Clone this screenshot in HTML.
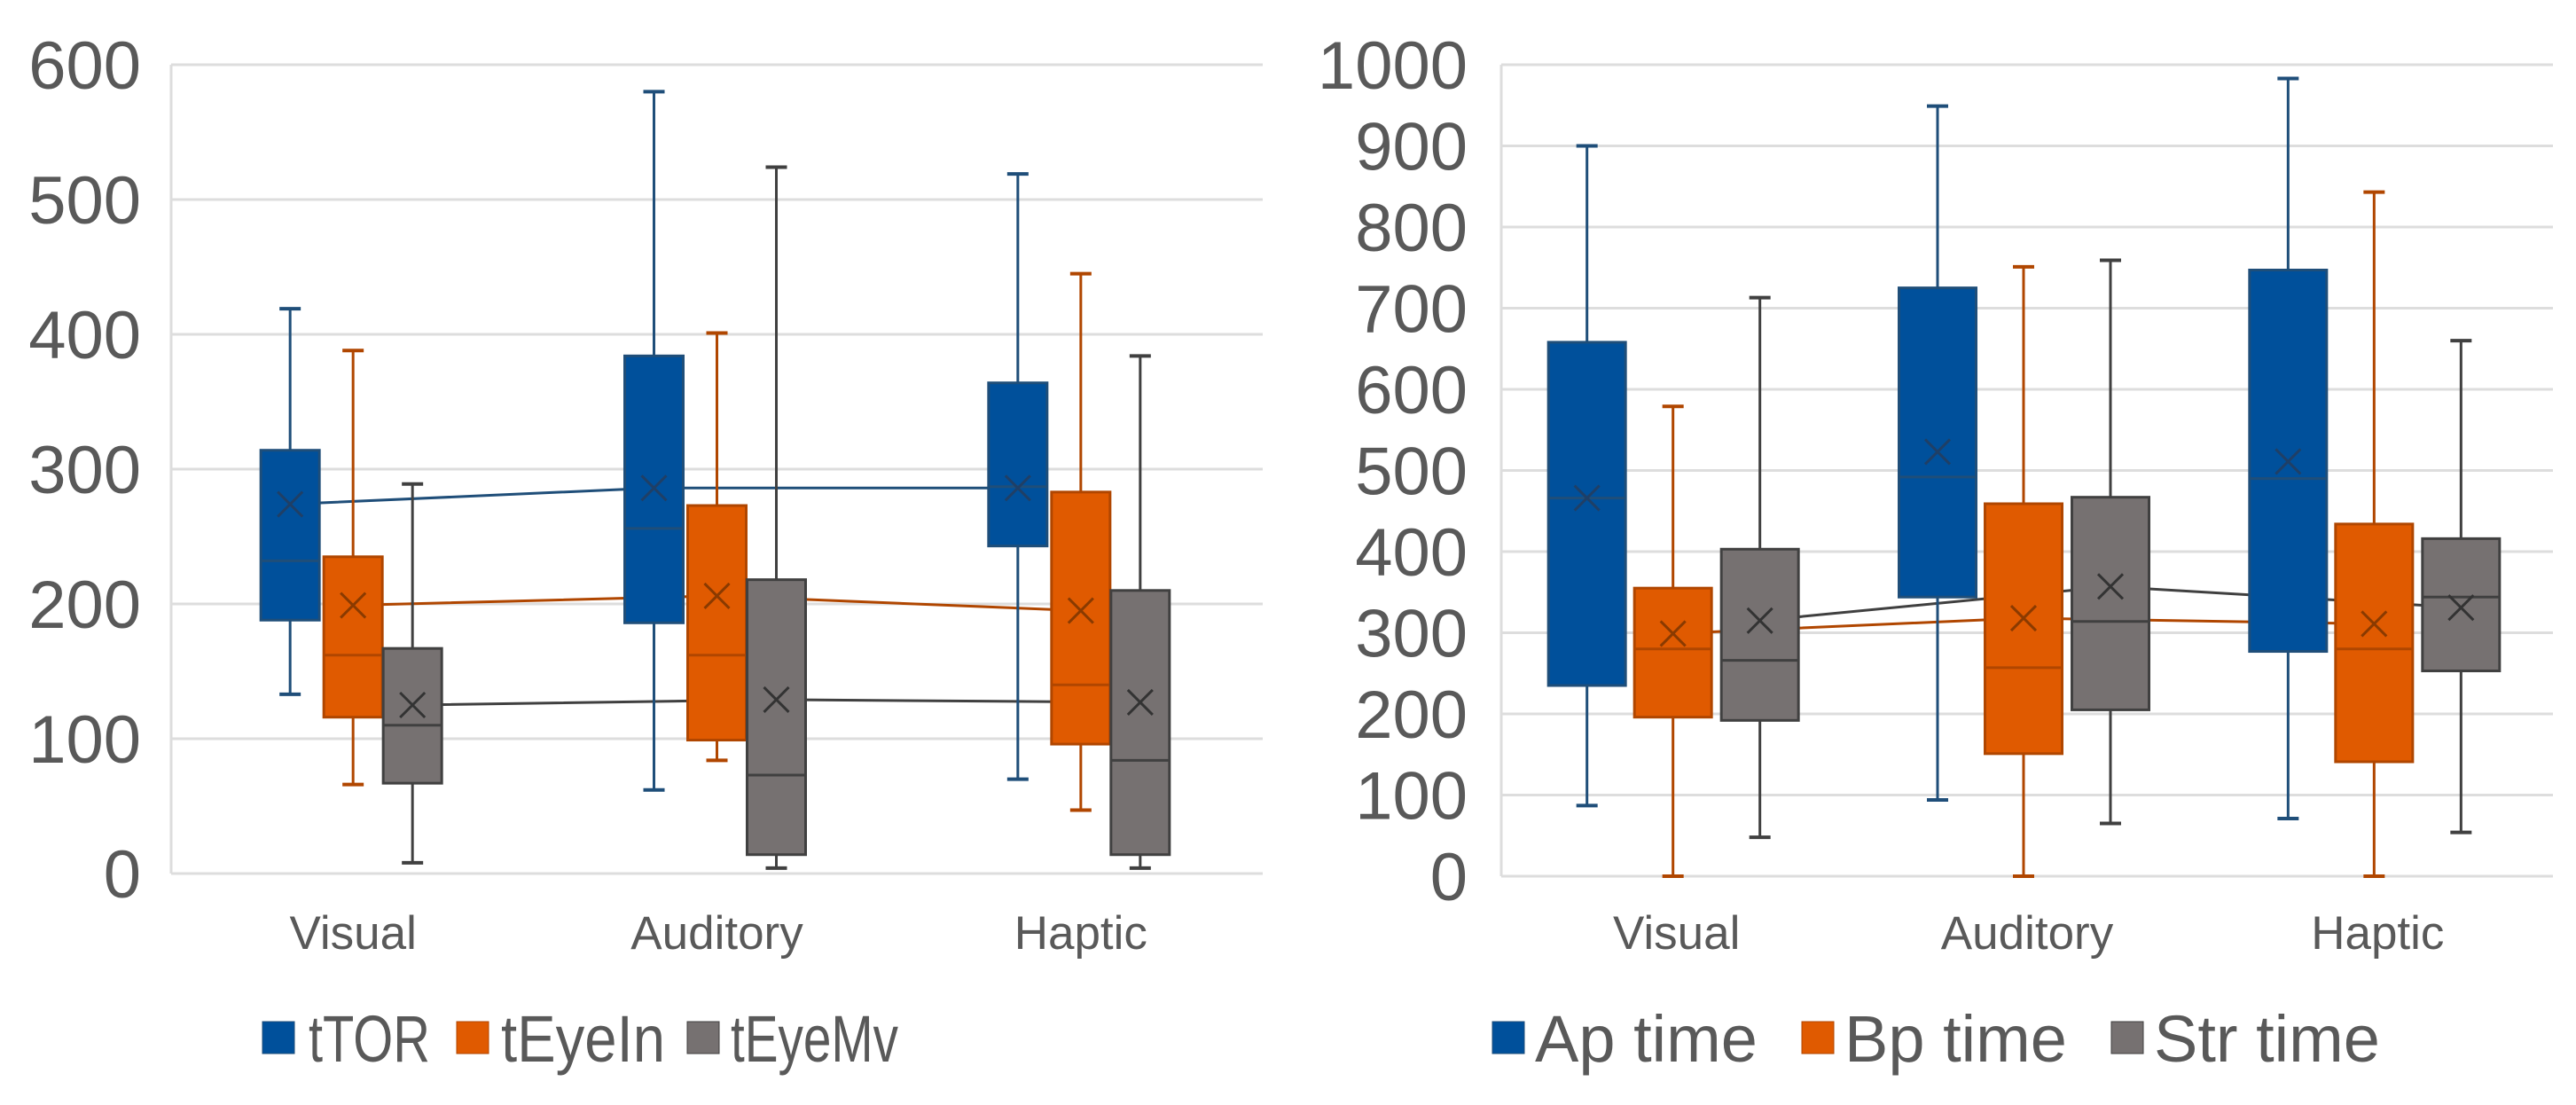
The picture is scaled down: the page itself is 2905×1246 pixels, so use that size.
<!DOCTYPE html>
<html><head><meta charset="utf-8">
<style>
html,body{margin:0;padding:0;background:#fff;}
svg{display:block;font-family:"Liberation Sans",Arial,sans-serif;}
</style></head>
<body>
<svg id="chart" width="2905" height="1246" viewBox="0 0 2905 1246" xmlns="http://www.w3.org/2000/svg"></svg>
<script>
// ---- data ----
const categories = ["Visual","Auditory","Haptic"];
const leftSeries = ["tTOR","tEyeIn","tEyeMv"];
const rightSeries = ["Ap time","Bp time","Str time"];
const leftTicks = [0,100,200,300,400,500,600];
const rightTicks = [0,100,200,300,400,500,600,700,800,900,1000];
const tTOR_min=[133,62,70], tTOR_q1=[188,186,243], tTOR_med=[232,256,287], tTOR_q3=[314,384,364], tTOR_max=[419,580,519], tTOR_mean=[274,286,286];
const tEyeIn_min=[66,84,47], tEyeIn_q1=[116,99,96], tEyeIn_med=[162,162,140], tEyeIn_q3=[235,273,283], tEyeIn_max=[388,401,445], tEyeIn_mean=[199,206,195];
const tEyeMv_min=[8,4,4], tEyeMv_q1=[67,14,14], tEyeMv_med=[110,73,84], tEyeMv_q3=[167,218,210], tEyeMv_max=[289,524,384], tEyeMv_mean=[125,129,127];
const Ap_min=[87,94,71], Ap_q1=[235,344,277], Ap_med=[466,492,490], Ap_q3=[658,725,747], Ap_max=[900,949,983], Ap_mean=[466,523,511];
const Bp_min=[0,0,0], Bp_q1=[196,151,141], Bp_med=[280,257,280], Bp_q3=[355,459,434], Bp_max=[579,751,843], Bp_mean=[299,318,311];
const Str_min=[48,65,54], Str_q1=[192,205,253], Str_med=[266,314,344], Str_q3=[403,467,416], Str_max=[713,759,660], Str_mean=[315,357,331];

const NS="http://www.w3.org/2000/svg";
const svg=document.getElementById('chart');
function mk(tag,attrs,parent){const e=document.createElementNS(NS,tag);for(const k in attrs)e.setAttribute(k,attrs[k]);(parent||svg).appendChild(e);return e;}
const fills=["#00509B","#E05A00","#767171"];
const strokes=["#1F4E79","#B04600","#404040"];
const markC=["#1F3F66","#8A3A00","#333333"];

function drawChart(cfg){
  const g=mk('g',{});
  
  
  const y=v=>cfg.y0-(v-cfg.ymin)/(cfg.ymax-cfg.ymin)*(cfg.y0-cfg.ytop);
  const bw=(cfg.x1-cfg.x0)/categories.length;
  const cx=i=>cfg.x0+bw*(i+0.5);
  cfg.ticks.forEach(t=>{
    const l=mk('line',{x1:cfg.x0,x2:cfg.x1,y1:y(t),y2:y(t),stroke:"#DDDDDD","stroke-width":3},g);
    
    
    const tx=mk('text',{x:cfg.labelX,y:y(t)+27,"text-anchor":"end","font-size":76,fill:"#595959"},g);
    tx.textContent=t;
    
    
  });
  const ax=mk('line',{x1:cfg.x0,x2:cfg.x0,y1:cfg.ytop,y2:cfg.y0,stroke:"#DDDDDD","stroke-width":3},g);
  
  
  categories.forEach((c,i)=>{
    const t=mk('text',{x:cx(i),y:1070,"text-anchor":"middle","font-size":53,fill:"#595959"},g);
    t.textContent=c;
    
    
  });
  cfg.series.forEach((s,si)=>{
    if(s.noLine) return;
    const pts=s.mean.map((m,i)=>(cx(i)+cfg.offs[si])+","+y(m)).join(" ");
    const pl=mk('polyline',{points:pts,fill:"none",stroke:si==2?"#404040":strokes[si],"stroke-width":3},g);
    
    
  });
  cfg.series.forEach((s,si)=>{
    categories.forEach((c,i)=>{
      const x=cx(i)+cfg.offs[si], w=cfg.boxW;
      const bg=mk('g',{},g);
      
      
      mk('line',{x1:x,x2:x,y1:y(s.max[i]),y2:y(s.q3[i]),stroke:strokes[si],"stroke-width":3},bg);
      mk('line',{x1:x,x2:x,y1:y(s.q1[i]),y2:y(s.min[i]),stroke:strokes[si],"stroke-width":3},bg);
      mk('line',{x1:x-12,x2:x+12,y1:y(s.max[i]),y2:y(s.max[i]),stroke:strokes[si],"stroke-width":4},bg);
      mk('line',{x1:x-12,x2:x+12,y1:y(s.min[i]),y2:y(s.min[i]),stroke:strokes[si],"stroke-width":4},bg);
      mk('rect',{x:x-w/2,y:y(s.q3[i]),width:w,height:y(s.q1[i])-y(s.q3[i]),fill:fills[si],stroke:strokes[si],"stroke-width":3},bg);
      mk('line',{x1:x-w/2,x2:x+w/2,y1:y(s.med[i]),y2:y(s.med[i]),stroke:strokes[si],"stroke-width":3},bg);
      const my=y(s.mean[i]), r=14;
      mk('path',{d:`M${x-r},${my-r}L${x+r},${my+r}M${x-r},${my+r}L${x+r},${my-r}`,stroke:markC[si],"stroke-width":3,fill:"none"},bg);
    });
  });
  cfg.series.forEach((s,si)=>{
    const lg=mk('g',{},g);
    
    
    mk('rect',{x:cfg.legX[si],y:1152,width:36,height:36,fill:fills[si],stroke:strokes[si],"stroke-width":1},lg);
    const attrs={x:cfg.legTX[si],y:1197,"font-size":74,fill:"#595959"};
    if(cfg.legW){attrs.textLength=cfg.legW[si];attrs.lengthAdjust="spacingAndGlyphs";}
    const t=mk('text',attrs,lg);
    t.textContent=s.label;
  });
}
drawChart({name:'left-chart',x0:193,x1:1424,ytop:73,y0:985,ymin:0,ymax:600,ticks:leftTicks,labelX:159,
  offs:[-71,0,67],boxW:66,legX:[296,515,775],legTX:[348,565,824],legW:[137,185,189],
  series:[
   {key:'ttor',label:leftSeries[0],min:tTOR_min,q1:tTOR_q1,med:tTOR_med,q3:tTOR_q3,max:tTOR_max,mean:tTOR_mean},
   {key:'teyein',label:leftSeries[1],min:tEyeIn_min,q1:tEyeIn_q1,med:tEyeIn_med,q3:tEyeIn_q3,max:tEyeIn_max,mean:tEyeIn_mean},
   {key:'teyemv',label:leftSeries[2],min:tEyeMv_min,q1:tEyeMv_q1,med:tEyeMv_med,q3:tEyeMv_q3,max:tEyeMv_max,mean:tEyeMv_mean}]});
drawChart({name:'right-chart',x0:1693,x1:2879,ytop:73,y0:988,ymin:0,ymax:1000,ticks:rightTicks,labelX:1655,
  offs:[-101,-4,94],boxW:87,legX:[1683,2032,2381],legTX:[1731,2080,2429],
  series:[
   {key:'ap',label:rightSeries[0],min:Ap_min,q1:Ap_q1,med:Ap_med,q3:Ap_q3,max:Ap_max,mean:Ap_mean,noLine:true},
   {key:'bp',label:rightSeries[1],min:Bp_min,q1:Bp_q1,med:Bp_med,q3:Bp_q3,max:Bp_max,mean:Bp_mean},
   {key:'str',label:rightSeries[2],min:Str_min,q1:Str_q1,med:Str_med,q3:Str_q3,max:Str_max,mean:Str_mean}]});
</script>
</body></html>
